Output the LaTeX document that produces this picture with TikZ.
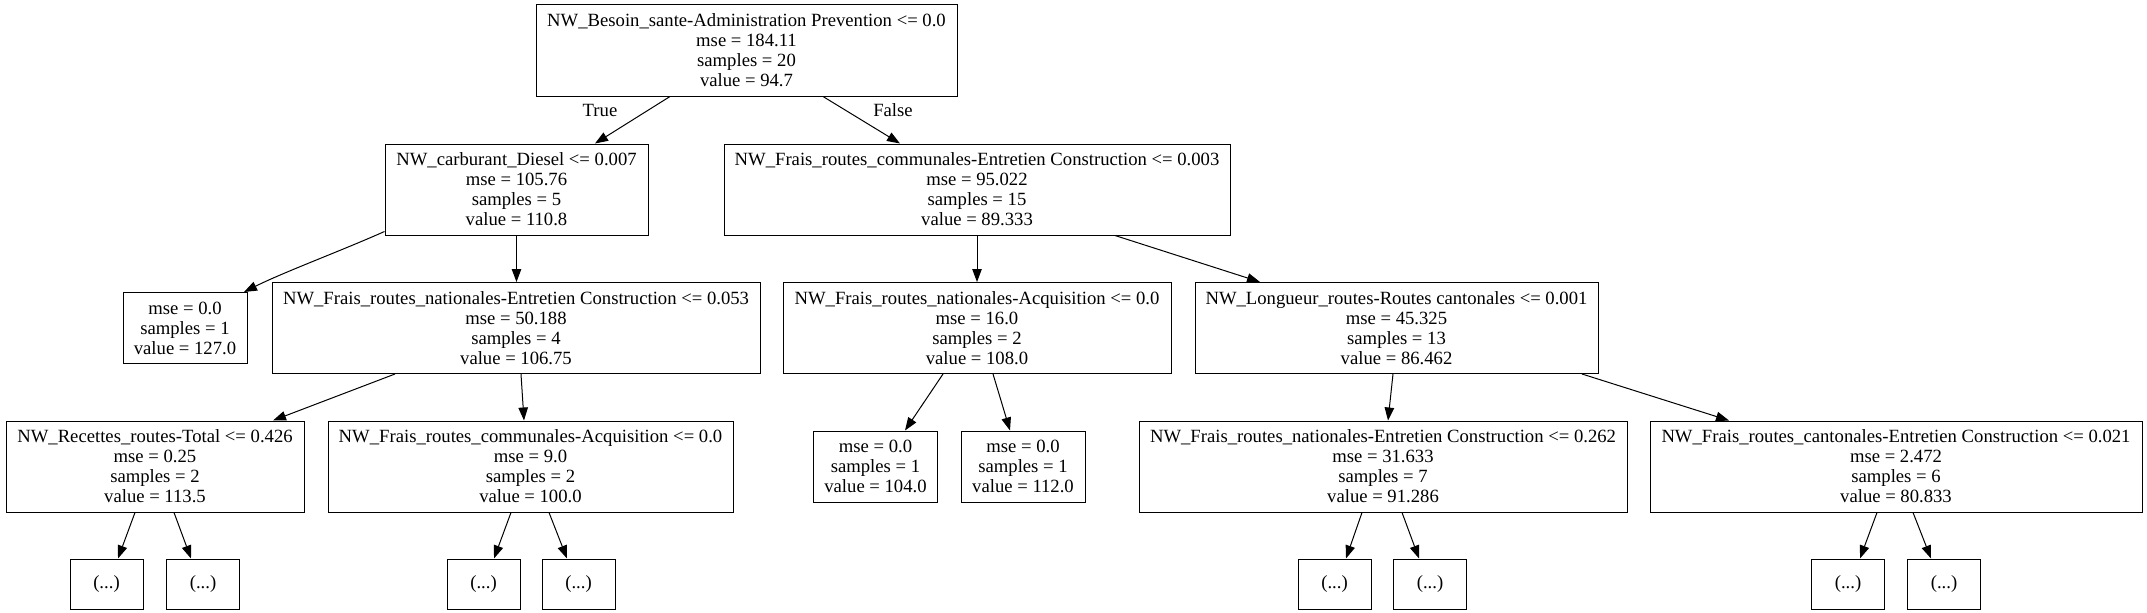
\documentclass[tikz,border=0pt]{standalone}
\usepackage{fontspec}
\setmainfont{Liberation Serif}
\usetikzlibrary{arrows.meta}
\tikzset{
  box/.style={draw, line width=1pt, align=center, inner sep=0pt,
    font=\fontsize{18.67}{20}\selectfont, minimum height=91},
  leaf/.style={box, minimum width=124, minimum height=71},
  more/.style={box, minimum width=73, minimum height=50},
  arr/.style={line width=1pt, -{Triangle[length=13pt,width=9.5pt]}},
  lbl/.style={font=\fontsize{18.67}{20}\selectfont, inner sep=0pt}
}
\begin{document}
\begin{tikzpicture}[x=1pt,y=-1pt]
\useasboundingbox (0,0) rectangle (2147,613);
% level 0
\node[box, minimum width=421, minimum height=92] (root) at (746.5,50)
  {NW\_Besoin\_sante-Administration Prevention <= 0.0\\mse = 184.11\\samples = 20\\value = 94.7};
% level 1
\node[box, minimum width=263] (n1) at (516.5,189.5)
  {NW\_carburant\_Diesel <= 0.007\\mse = 105.76\\samples = 5\\value = 110.8};
\node[box, minimum width=506] (n2) at (977,189.5)
  {NW\_Frais\_routes\_communales-Entretien Construction <= 0.003\\mse = 95.022\\samples = 15\\value = 89.333};
% level 2
\node[leaf] (l127) at (185,328) {mse = 0.0\\samples = 1\\value = 127.0};
\node[box, minimum width=488] (n3) at (516,328)
  {NW\_Frais\_routes\_nationales-Entretien Construction <= 0.053\\mse = 50.188\\samples = 4\\value = 106.75};
\node[box, minimum width=388] (n4) at (977,328)
  {NW\_Frais\_routes\_nationales-Acquisition <= 0.0\\mse = 16.0\\samples = 2\\value = 108.0};
\node[box, minimum width=403] (n5) at (1396.5,328)
  {NW\_Longueur\_routes-Routes cantonales <= 0.001\\mse = 45.325\\samples = 13\\value = 86.462};
% level 3
\node[box, minimum width=298] (n6) at (155,466.5)
  {NW\_Recettes\_routes-Total <= 0.426\\mse = 0.25\\samples = 2\\value = 113.5};
\node[box, minimum width=405] (n7) at (530.5,466.5)
  {NW\_Frais\_routes\_communales-Acquisition <= 0.0\\mse = 9.0\\samples = 2\\value = 100.0};
\node[leaf] (l104) at (875.5,466.5) {mse = 0.0\\samples = 1\\value = 104.0};
\node[leaf] (l112) at (1023,466.5) {mse = 0.0\\samples = 1\\value = 112.0};
\node[box, minimum width=488] (n8) at (1383,466.5)
  {NW\_Frais\_routes\_nationales-Entretien Construction <= 0.262\\mse = 31.633\\samples = 7\\value = 91.286};
\node[box, minimum width=492] (n9) at (1896,466.5)
  {NW\_Frais\_routes\_cantonales-Entretien Construction <= 0.021\\mse = 2.472\\samples = 6\\value = 80.833};
% level 4
\node[more] (e1) at (106.5,584) {(...)};
\node[more] (e2) at (203,584) {(...)};
\node[more] (e3) at (483.5,584) {(...)};
\node[more] (e4) at (578.5,584) {(...)};
\node[more] (e5) at (1334.5,584) {(...)};
\node[more] (e6) at (1430,584) {(...)};
\node[more] (e7) at (1848,584) {(...)};
\node[more] (e8) at (1944,584) {(...)};
% labels
\node[lbl] (ltrue) at (600,110) {True};
\node[lbl] (lfalse) at (893,110) {False};
% edges
\draw[arr] ([xshift=-76.5]root.south) -- ([xshift=78.5]n1.north);
\draw[arr] ([xshift=76.5]root.south) -- ([xshift=-77]n2.north);
\draw[arr] ([yshift=4]n1.south west) .. controls +(-45,20) and +(40,-20) .. ([xshift=59]l127.north);
\draw[arr] (n1.south) -- ([xshift=0.5]n3.north);
\draw[arr] (n2.south) -- (n4.north);
\draw[arr] ([xshift=138]n2.south) -- ([xshift=-136.5]n5.north);
\draw[arr] ([xshift=-121]n3.south) -- ([xshift=118]n6.north);
\draw[arr] ([xshift=5]n3.south) -- ([xshift=-6.5]n7.north);
\draw[arr] ([xshift=-34]n4.south) -- ([xshift=29.5]l104.north);
\draw[arr] ([xshift=16]n4.south) -- ([xshift=-13]l112.north);
\draw[arr] ([xshift=-3.5]n5.south) -- ([xshift=5]n8.north);
\draw[arr] ([xshift=185.5]n5.south) -- ([xshift=-167]n9.north);
\draw[arr] ([xshift=-20]n6.south) -- ([xshift=11.5]e1.north);
\draw[arr] ([xshift=19]n6.south) -- ([xshift=-12]e2.north);
\draw[arr] ([xshift=-19.5]n7.south) -- ([xshift=10.5]e3.north);
\draw[arr] ([xshift=18.5]n7.south) -- ([xshift=-11.5]e4.north);
\draw[arr] ([xshift=-21]n8.south) -- ([xshift=11.5]e5.north);
\draw[arr] ([xshift=19]n8.south) -- ([xshift=-11]e6.north);
\draw[arr] ([xshift=-19]n9.south) -- ([xshift=12]e7.north);
\draw[arr] ([xshift=17]n9.south) -- ([xshift=-13]e8.north);
\end{tikzpicture}
\end{document}
